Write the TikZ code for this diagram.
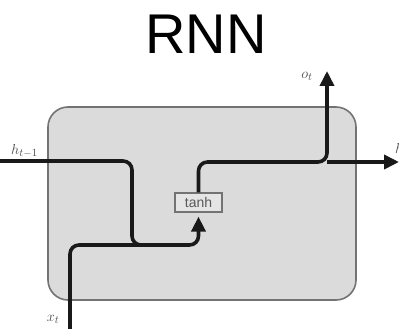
\documentclass[tikz,border=0pt]{standalone}
\usepackage{fontspec}
\setsansfont{Liberation Sans}
\usetikzlibrary{arrows.meta}
\begin{document}
\begin{tikzpicture}[x=1pt,y=-1pt,
  cellbox/.style={draw=black!55,line width=1.6pt,fill=black!14,rounded corners=20pt,minimum width=308pt,minimum height=193pt,inner sep=0pt},
  gatebox/.style={draw=black!55,line width=1.2pt,fill=black!10,minimum width=47pt,minimum height=19pt,inner sep=0pt,font=\sffamily\fontsize{14}{14}\selectfont,text=black!65},
  flow/.style={line width=3.6pt,black!90,rounded corners=9pt},
  tip/.style={-{Triangle[length=15pt,width=14pt]}},
  lbl/.style={text=black!70,font=\fontsize{15}{15}\selectfont,inner sep=0pt}]
\useasboundingbox (0,0) rectangle (399,329);
\node[font=\sffamily\fontsize{56}{56}\selectfont,inner sep=0pt] (title) at (206,34) {RNN};
\node[cellbox] (cell) at (202,203.5) {};
\node[gatebox] (tanh) at (198.5,202.5) {tanh};
\coordinate (hin) at (-5,161);
\coordinate (xin) at (70,335);
\coordinate (join) at (132,245);
\coordinate (split) at (327,162);
\coordinate (oout) at (327,71);
\coordinate (hout) at (399,162);
% h_{t-1} path
\draw[flow] (hin) -| (join) -- ++(25,0);
% x_t path
\draw[flow,tip,shorten >=4pt] (xin) |- (join) -| (tanh.south);
% output path
\draw[flow,tip] (tanh.north) |- (split) -- (oout);
\draw[flow,tip] (split) -- (hout);
% labels
\node[lbl,anchor=east] (lh) at (38,151) {$h_{t-1}$};
\node[lbl] (lo) at (307,76) {$o_t$};
\node[lbl] (lx) at (53,319) {$x_t$};
\node[lbl,anchor=west] (lht) at (395,150) {$h_t$};
\end{tikzpicture}
\end{document}
